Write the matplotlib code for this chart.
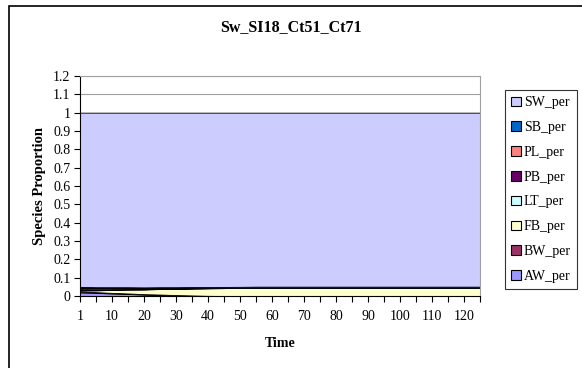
import numpy as np
import matplotlib
matplotlib.use("Agg")
import matplotlib.pyplot as plt
from matplotlib.patches import Rectangle, Patch

plt.rcParams['font.family'] = ['Liberation Serif', 'DejaVu Serif']

# time categories (Excel category axis, evenly spaced)
times = [1, 5, 10, 15, 20, 25, 30, 35, 40, 45, 50, 55, 60, 65, 70, 75,
         80, 85, 90, 95, 100, 105, 110, 115, 120, 125]

aw = [0.020, 0.017, 0.014, 0.011, 0.008, 0.006, 0.004, 0.002, 0.001, 0.0,
      0, 0, 0, 0, 0, 0, 0, 0, 0, 0, 0, 0, 0, 0, 0, 0]
bw = [0.004, 0.004, 0.003, 0.003, 0.002, 0.002, 0.001, 0.001, 0.0, 0.0,
      0, 0, 0, 0, 0, 0, 0, 0, 0, 0, 0, 0, 0, 0, 0, 0]
fb = [0.006, 0.010, 0.016, 0.021, 0.026, 0.030, 0.034, 0.038, 0.041, 0.043,
      0.044, 0.045, 0.045, 0.045, 0.045, 0.045, 0.045, 0.045, 0.045, 0.045,
      0.045, 0.045, 0.045, 0.045, 0.045, 0.045]
lt = [0.004, 0.003, 0.002, 0.002, 0.001, 0.001, 0.001, 0.001, 0.001, 0.001,
      0, 0, 0, 0, 0, 0, 0, 0, 0, 0, 0, 0, 0, 0, 0, 0]
pb = [0.012, 0.010, 0.008, 0.006, 0.004, 0.003, 0.002, 0.001, 0.001, 0.0005,
      0, 0, 0, 0, 0, 0, 0, 0, 0, 0, 0, 0, 0, 0, 0, 0]
pl = [0.001, 0.001, 0.001, 0.001, 0.001, 0.001, 0.001, 0.001, 0.0, 0.0,
      0, 0, 0, 0, 0, 0, 0, 0, 0, 0, 0, 0, 0, 0, 0, 0]
sb = [0.003, 0.003, 0.004, 0.004, 0.005, 0.005, 0.005, 0.005, 0.005, 0.005,
      0.006, 0.006, 0.006, 0.006, 0.006, 0.006, 0.006, 0.006, 0.006, 0.006,
      0.006, 0.006, 0.006, 0.006, 0.006, 0.006]
others = np.array([aw, bw, fb, lt, pb, pl, sb])
sw = list(1.0 - others.sum(axis=0))

names = ['AW_per', 'BW_per', 'FB_per', 'LT_per', 'PB_per', 'PL_per', 'SB_per', 'SW_per']
colors = ['#9999FF', '#993366', '#FFFFCC', '#CCFFFF', '#660066', '#FF8080', '#0066CC', '#CCCCFF']
series = [aw, bw, fb, lt, pb, pl, sb, sw]

fig = plt.figure(figsize=(5.82, 3.68), dpi=100)
fig.patches.append(Rectangle((9 / 582, -0.1), 1.2, 1 - 6 / 368 + 0.1,
                             transform=fig.transFigure, fill=False,
                             edgecolor='black', linewidth=1.2))

ax = fig.add_axes([80 / 582, 1 - 296 / 368, 400 / 582, 220 / 368])
x = np.arange(len(times))

for yv in np.arange(0.1, 1.21, 0.1):
    ax.axhline(yv, color='#a0a0a0', linewidth=0.8, zorder=0)

ax.stackplot(x, *series, colors=colors, edgecolor='black', linewidth=0.6,
             zorder=2)

ax.set_xlim(0, len(times) - 1)
ax.set_ylim(0, 1.2)
ax.set_yticks(np.arange(0, 1.21, 0.1))
ax.set_yticklabels(['0', '0.1', '0.2', '0.3', '0.4', '0.5', '0.6', '0.7',
                    '0.8', '0.9', '1', '1.1', '1.2'])
ax.set_xticks(x, minor=True)
ax.set_xticks(x[::2])
ax.set_xticklabels([str(t) for t in times[::2]])
ax.tick_params(axis='both', which='both', direction='out', labelsize=10,
               length=4, width=0.8, colors='black')
ax.tick_params(axis='x', which='major', pad=6)
ax.tick_params(axis='y', pad=3)

for s in ['top', 'right']:
    ax.spines[s].set_color('#a0a0a0')
    ax.spines[s].set_linewidth(0.8)
ax.spines['left'].set_linewidth(0.8)
ax.spines['bottom'].set_linewidth(0.8)

ax.set_ylabel('Species Proportion', fontsize=10.5, fontweight='bold', labelpad=5)
ax.set_xlabel('Time', fontsize=10, fontweight='bold', labelpad=10)
fig.text(0.5, 1 - 27 / 368, 'Sw_SI18_Ct51_Ct71', ha='center', va='center',
         fontsize=11.5, fontweight='bold')

handles = [Patch(facecolor=c, edgecolor='black', linewidth=0.8, label=n)
           for n, c in zip(names, colors)][::-1]
leg = fig.legend(handles=handles, loc='upper left',
                 bbox_to_anchor=(505 / 582, 1 - 90 / 368), fontsize=10,
                 frameon=True, fancybox=False, edgecolor='black',
                 handlelength=0.7, handleheight=0.7, handletextpad=0.2,
                 labelspacing=0.85, borderpad=0.45, borderaxespad=0)
leg.get_frame().set_linewidth(0.8)

fig.savefig('out.png', dpi=100)
